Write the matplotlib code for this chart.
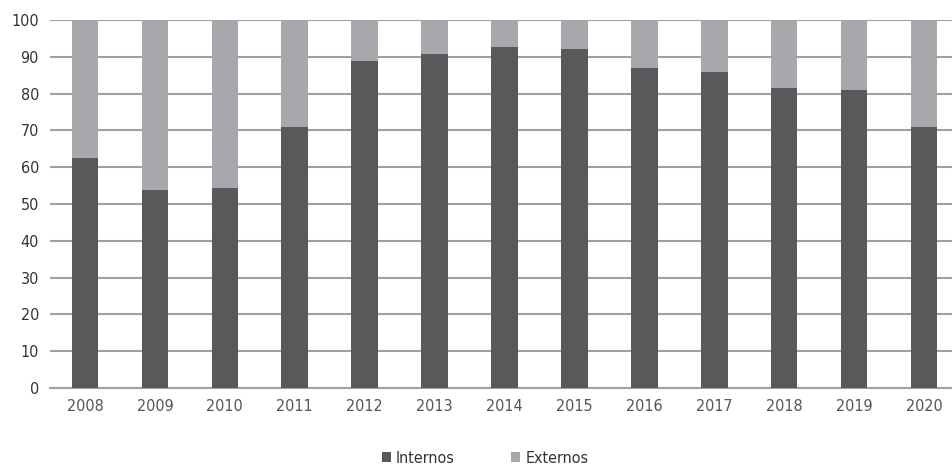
import matplotlib
matplotlib.use("Agg")
import matplotlib.pyplot as plt
import numpy as np

years = ["2008", "2009", "2010", "2011", "2012", "2013", "2014",
         "2015", "2016", "2017", "2018", "2019", "2020"]
internos = [62.6, 53.9, 54.4, 71.0, 88.9, 90.8, 92.6, 92.0, 87.0, 85.9, 81.5, 80.9, 71.0]
externos = [100 - v for v in internos]
yticks = [0, 10, 20, 30, 40, 50, 60, 70, 80, 90, 100]

dark = "#58595b"
light = "#a7a8ab"

plt.rcParams['font.family'] = ['DejaVu Sans']
plt.rcParams['font.stretch'] = 'condensed'

fig = plt.figure(figsize=(9.52, 4.69), dpi=100)
ax = fig.add_axes([50/952, 1-388/469, 1-50/952, (388-20)/469])
x = np.arange(len(years))
w = 0.38
ax.bar(x, internos, width=w, color=dark, label="Internos", zorder=3)
ax.bar(x, externos, width=w, bottom=internos, color=light, label="Externos", zorder=3)

ax.set_ylim(0, 100)
ax.set_xlim(-0.5, 12.4)
ax.set_yticks(yticks)
ax.set_xticks(x)
ax.set_xticklabels(years)
ax.yaxis.grid(True, color="#a0a0a2", linewidth=1.5, zorder=0)
ax.set_axisbelow(True)
for s in ["top", "right", "left"]:
    ax.spines[s].set_visible(False)
ax.spines["bottom"].set_color("#a0a0a2")
ax.spines["bottom"].set_linewidth(1.5)
ax.tick_params(axis="both", length=0, labelsize=11.5, colors="#333333")
ax.tick_params(axis="x", pad=8, colors="#555555")
ax.tick_params(axis="y", pad=8)

leg = fig.legend(loc="center", bbox_to_anchor=(485/952, 1-458/469), ncol=2,
                 frameon=False, fontsize=11.5, handlelength=0.6, handleheight=0.6,
                 handletextpad=0.3, columnspacing=3.5)
for t in leg.get_texts():
    t.set_color("#333333")

fig.savefig("out.png", dpi=100)
